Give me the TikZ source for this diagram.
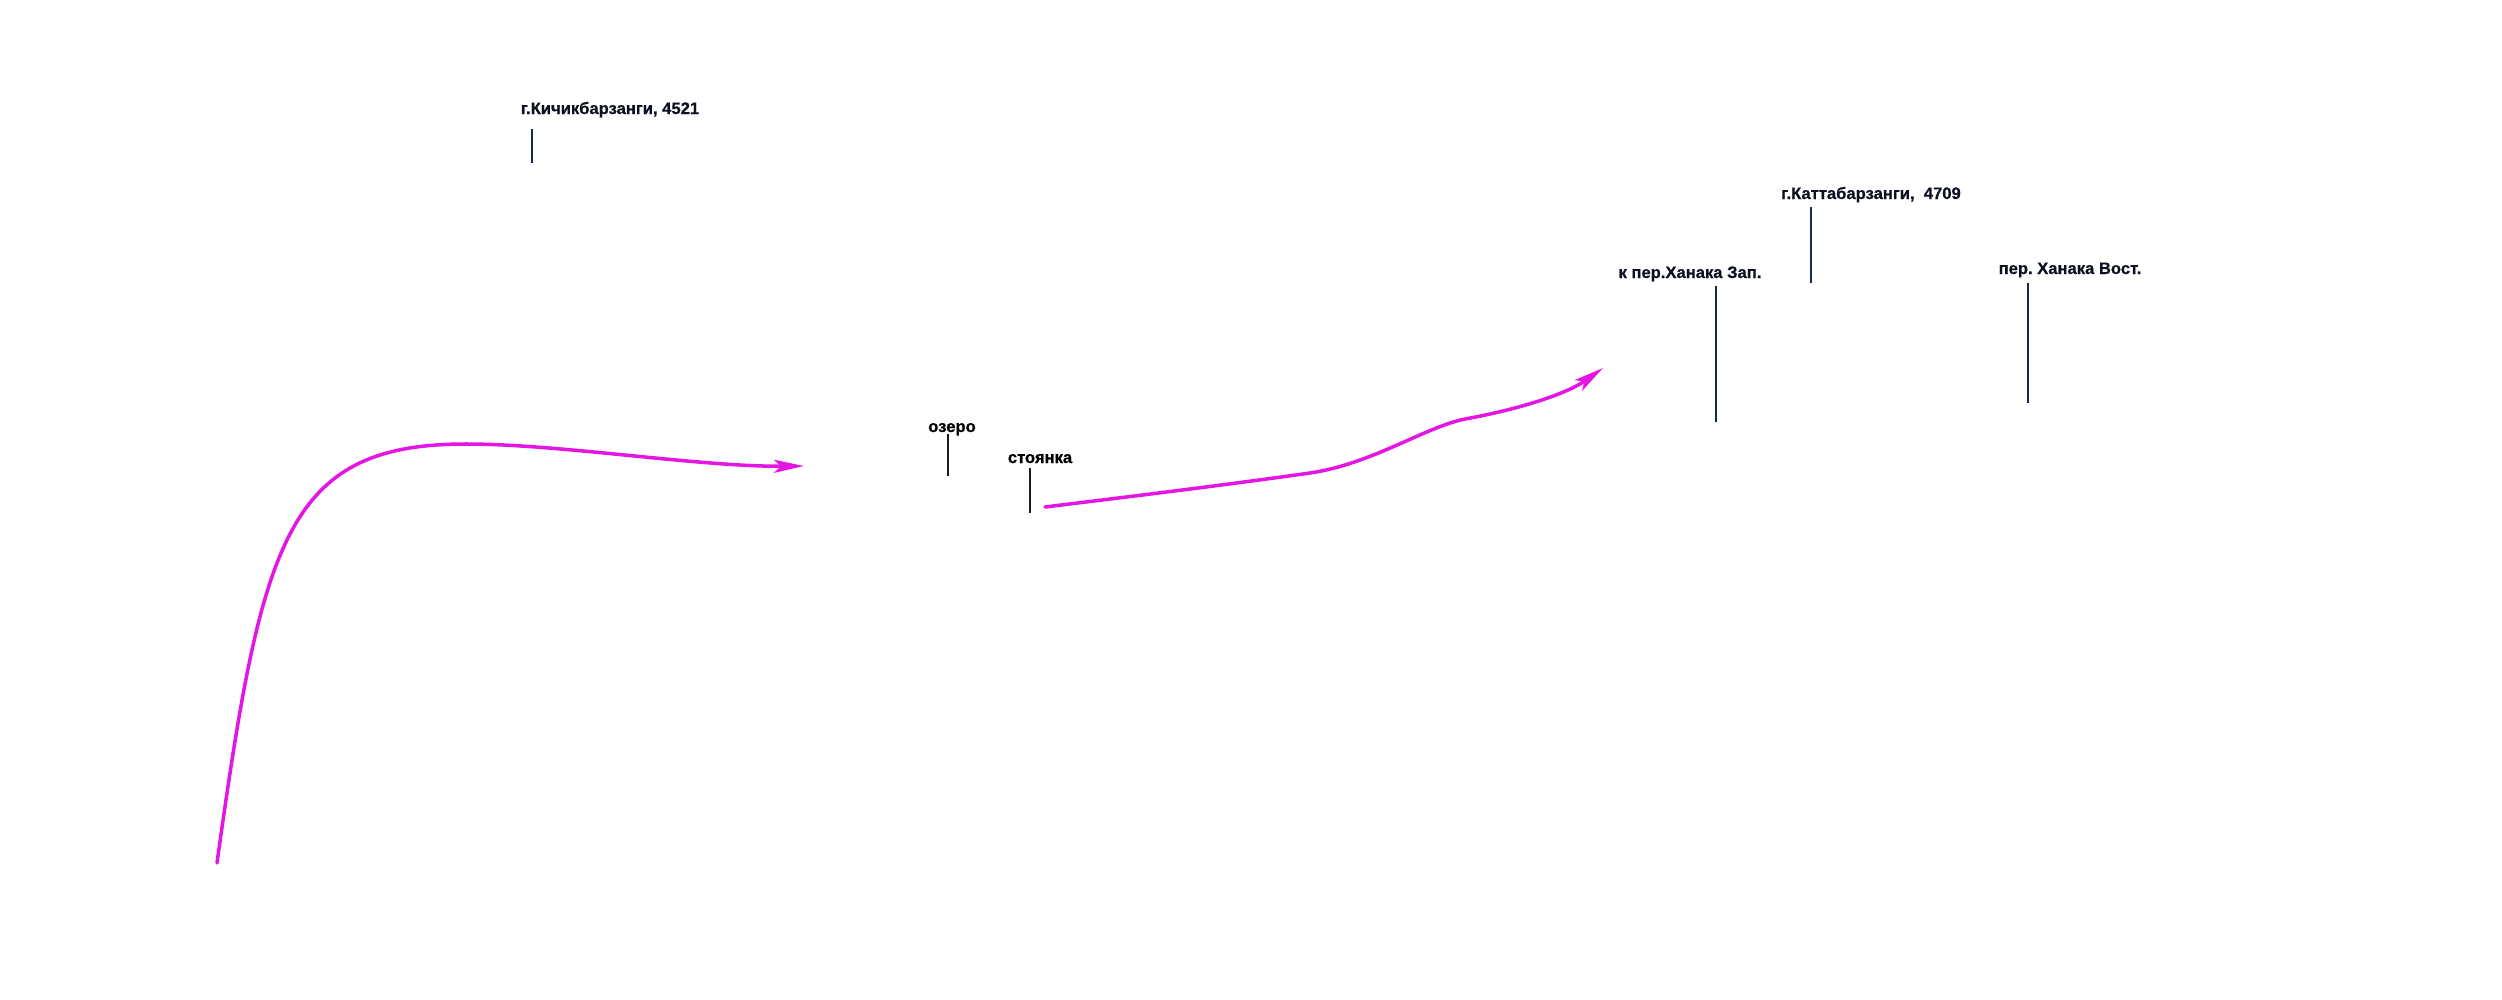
\documentclass[tikz,border=0pt]{standalone}
\usepackage{fontspec}
\setmainfont{Liberation Sans}
\newfontfamily\lblfont{Liberation Sans}[BoldFeatures={FakeBold=0.6}]
\usetikzlibrary{arrows.meta}
\definecolor{route}{RGB}{228,22,228}
\definecolor{pin}{RGB}{25,42,88}
\definecolor{pindark}{RGB}{28,28,28}
\definecolor{ink}{RGB}{12,16,32}
\frenchspacing
\begin{document}
\begin{tikzpicture}[x=0.01cm,y=-0.01cm,
  lbl/.style={inner sep=0pt, anchor=base, text=ink, font=\lblfont\bfseries\fontsize{4.72pt}{5pt}\selectfont\frenchspacing},
  pinline/.style={draw=pin, line width=0.55pt},
  pinblack/.style={draw=pindark, line width=0.55pt},
  routeline/.style={draw=route, line width=1pt, line cap=round,
    -{Stealth[length=0.3cm,width=0.13cm,inset=0.07cm]}}]
\useasboundingbox (0,0) rectangle (2502,1000);

% labels
\node[lbl] (kich) at (610,114) {г.Кичикбарзанги, 4521};
\node[lbl] (katt) at (1871,199) {г.Каттабарзанги,~~4709};
\node[lbl] (zap)  at (1690,278) {к пер.Ханака Зап.};
\node[lbl] (vost) at (2070,274) {пер. Ханака Вост.};
\node[lbl, text=black] (ozero) at (952,432) {озеро};
\node[lbl, text=black] (stoy) at (1040,463) {стоянка};

% pins
\coordinate (kichT) at (532,129); \coordinate (kichB) at (532,163);
\coordinate (kattT) at (1811,207); \coordinate (kattB) at (1811,283);
\coordinate (zapT) at (1716,286); \coordinate (zapB) at (1716,422);
\coordinate (vostT) at (2028,283); \coordinate (vostB) at (2028,403);
\coordinate (ozT) at (948,434); \coordinate (ozB) at (948,476);
\coordinate (stT) at (1030,468); \coordinate (stB) at (1030,513);
\draw[pinline] (kichT) -- (kichB);
\draw[pinline] (kattT) -- (kattB);
\draw[pinline] (zapT) -- (zapB);
\draw[pinline] (vostT) -- (vostB);
\draw[pinblack] (ozT) -- (ozB);
\draw[pinblack] (stT) -- (stB);

% routes
\coordinate (r1s) at (217,863);
\coordinate (r1m) at (466,444);
\coordinate (r1e) at (804,466);
\draw[routeline] (r1s) .. controls (262,540) and (286,444) .. (r1m)
  .. controls (560,444) and (700,467) .. (r1e);

\coordinate (r2s) at (1045,507);
\coordinate (r2a) at (1310,473);
\coordinate (r2b) at (1465,419);
\coordinate (r2e) at (1603,368);
\draw[routeline] (r2s) .. controls (1135,496) and (1225,485) .. (r2a)
  .. controls (1372,464) and (1425,427) .. (r2b)
  .. controls (1515,410) and (1565,395) .. (r2e);
\end{tikzpicture}
\end{document}
